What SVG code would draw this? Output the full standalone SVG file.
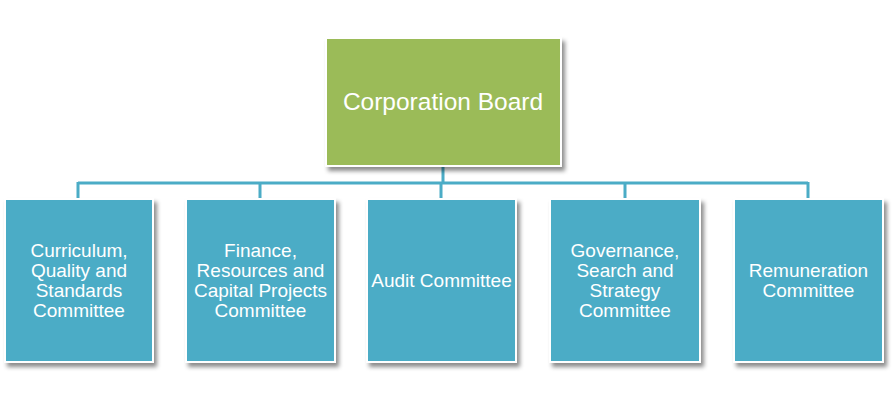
<svg xmlns="http://www.w3.org/2000/svg" width="893" height="401" viewBox="0 0 893 401">
<defs>
<style>
.box{stroke:#ffffff;stroke-width:2}
.board{fill:#9BBB59}
.com{fill:#4BACC6}
.lbl{font-family:"Liberation Sans",Arial,sans-serif;fill:#ffffff;text-anchor:middle}
.sm{font-size:19px}
.lg{font-size:24.5px}
.conn{stroke:#4BACC6;stroke-width:3;fill:none}
</style>
<filter id="sh" x="-10%" y="-10%" width="125%" height="125%">
<feDropShadow dx="3" dy="4" stdDeviation="2" flood-color="#000" flood-opacity="0.45"/>
</filter>
</defs>
<rect width="893" height="401" fill="#ffffff"/>
<g id="connectors">
<path class="conn" d="M443 166 V183 M78 183 H808 M78 182 V199 M260 182 V199 M441 182 V199 M625 182 V199 M808 182 V199"/>
</g>
<g id="board">
<rect class="box board" x="326" y="38" width="235" height="128" filter="url(#sh)"/>
<text class="lbl lg" x="443" y="110">Corporation Board</text>
</g>
<g id="curriculum">
<rect class="box com" x="5" y="199" width="148" height="163" filter="url(#sh)"/>
<text class="lbl sm" x="79" y="257">Curriculum,<tspan x="79" dy="20">Quality and</tspan><tspan x="79" dy="20">Standards</tspan><tspan x="79" dy="20">Committee</tspan></text>
</g>
<g id="finance">
<rect class="box com" x="186" y="199" width="149" height="163" filter="url(#sh)"/>
<text class="lbl sm" x="260.5" y="257">Finance,<tspan x="260.5" dy="20">Resources and</tspan><tspan x="260.5" dy="20">Capital Projects</tspan><tspan x="260.5" dy="20">Committee</tspan></text>
</g>
<g id="audit">
<rect class="box com" x="367" y="199" width="149" height="163" filter="url(#sh)"/>
<text class="lbl sm" x="441.5" y="287">Audit Committee</text>
</g>
<g id="governance">
<rect class="box com" x="550" y="199" width="150" height="163" filter="url(#sh)"/>
<text class="lbl sm" x="625" y="257">Governance,<tspan x="625" dy="20">Search and</tspan><tspan x="625" dy="20">Strategy</tspan><tspan x="625" dy="20">Committee</tspan></text>
</g>
<g id="remuneration">
<rect class="box com" x="734" y="199" width="149" height="163" filter="url(#sh)"/>
<text class="lbl sm" x="808.5" y="277">Remuneration<tspan x="808.5" dy="20">Committee</tspan></text>
</g>
</svg>
